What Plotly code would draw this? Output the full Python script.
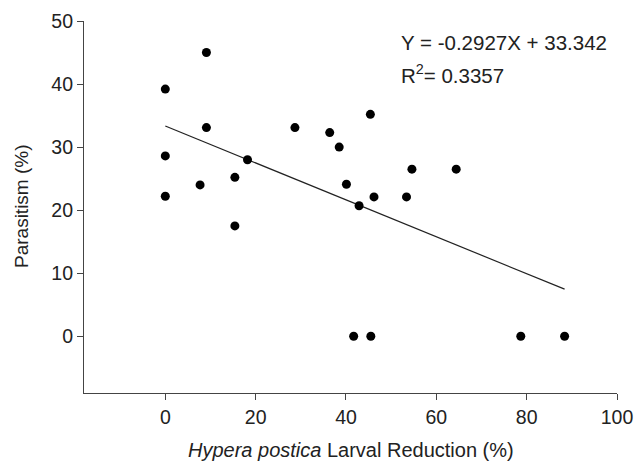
import plotly.graph_objects as go

# Larval reduction (%) vs parasitism (%)
larval_reduction = [
    0.0, 9.1, 9.1, 0.0, 0.0, 7.7, 15.4, 18.2, 15.4, 28.7,
    45.4, 36.4, 38.5, 40.1, 42.9, 46.2, 53.4, 54.6, 64.4,
    41.7, 45.5, 78.7, 88.4,
]
parasitism = [
    39.2, 45.0, 33.1, 28.6, 22.2, 24.0, 25.2, 28.0, 17.5, 33.1,
    35.2, 32.3, 30.0, 24.1, 20.7, 22.1, 22.1, 26.5, 26.5,
    0.0, 0.0, 0.0, 0.0,
]

slope = -0.2927
intercept = 33.342
fit_x = [0.0, 88.4]
fit_y = [intercept + slope * x for x in fit_x]

FONT = "Liberation Sans, Arial, sans-serif"
INK = "#222222"

fig = go.Figure()
fig.add_trace(go.Scatter(
    x=fit_x, y=fit_y, mode="lines",
    line=dict(color=INK, width=1.2),
    showlegend=False, hoverinfo="skip",
))
fig.add_trace(go.Scatter(
    x=larval_reduction, y=parasitism, mode="markers",
    marker=dict(color="black", size=9),
    showlegend=False,
))

# regression equation
fig.add_annotation(
    x=51.7, y=46.6, xref="x", yref="y", xanchor="left", yanchor="middle",
    text="Y = -0.2927X + 33.342", showarrow=False,
    font=dict(family=FONT, size=20.5, color=INK),
)
fig.add_annotation(
    x=51.7, y=41.6, xref="x", yref="y", xanchor="left", yanchor="middle",
    text="R<sup>2</sup>= 0.3357", showarrow=False,
    font=dict(family=FONT, size=20.5, color=INK),
)

# axis titles
fig.add_annotation(
    x=0.5004, y=-0.1527, xref="paper", yref="paper",
    xanchor="center", yanchor="middle", showarrow=False,
    text="<i>Hypera postica</i> Larval Reduction (%)",
    font=dict(family=FONT, size=20, color=INK),
)
fig.add_annotation(
    x=-0.1163, y=0.5027, xref="paper", yref="paper",
    xanchor="center", yanchor="middle", showarrow=False, textangle=-90,
    text="Parasitism (%)",
    font=dict(family=FONT, size=19, color=INK),
)

axis_common = dict(
    showgrid=False, zeroline=False, showline=True, automargin=False,
    linecolor="#444444", linewidth=1.2,
    ticks="outside", ticklen=6, tickwidth=1.2, tickcolor="#444444",
    tickfont=dict(family=FONT, size=19.5, color=INK),
)

fig.update_xaxes(range=[-18, 100], tickvals=[0, 20, 40, 60, 80, 100], **axis_common)
fig.update_yaxes(range=[-9, 50], tickvals=[0, 10, 20, 30, 40, 50], **axis_common)

fig.update_layout(
    width=636, height=461,
    margin=dict(l=84, r=19, t=21, b=68),
    plot_bgcolor="white", paper_bgcolor="white",
)

# drop the default body margin so the figure fills the window exactly
fig.write_html(
    "out.html",
    config={"displayModeBar": False},
    post_script="document.body.style.margin='0';document.body.style.overflow='hidden';",
)
